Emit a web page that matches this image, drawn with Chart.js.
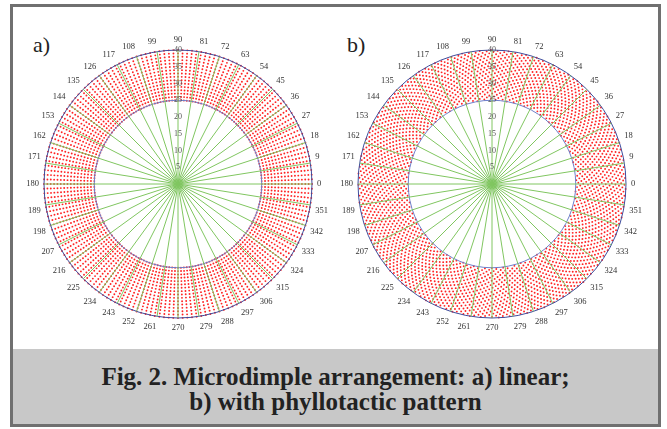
<!DOCTYPE html>
<html>
<head>
<meta charset="utf-8">
<script src="https://cdn.jsdelivr.net/npm/chart.js@4.4.1/dist/chart.umd.min.js"></script>
<style>
  html, body { margin: 0; padding: 0; background: #fff; }
  body { width: 667px; height: 429px; position: relative; overflow: hidden; }
  #frame { position: absolute; left: 10px; top: 4px; width: 651px; height: 423px;
           box-sizing: border-box; border: 3px solid #707070; }
  #band { position: absolute; left: 0; right: 0; top: 342px; bottom: 0; background: #c8c8c8; }
  #caption { position: absolute; left: 0; right: 0; top: 15px; text-align: center;
             font: bold 25px "Liberation Serif", serif; line-height: 25px; color: #222; }
  .tag { position: absolute; font: 22px "Liberation Serif", serif; line-height: 22px; color: #222; }
  canvas { position: absolute; }
</style>
</head>
<body>
<div id="frame">
  <div id="band"><div id="caption">Fig. 2. Microdimple arrangement: a) linear;<br>b) with phyllotactic pattern</div></div>
</div>
<div class="tag" style="left:33px;top:34px">a)</div>
<div class="tag" style="left:347px;top:34px">b)</div>
<canvas id="chartA" width="340" height="340"></canvas>
<canvas id="chartB" width="340" height="340"></canvas>
<script>
// angle labels (degrees, counter-clockwise from the right)
const angleLabels = [0, 9, 18, 27, 36, 45, 54, 63, 72, 81, 90, 99, 108, 117, 126, 135, 144, 153, 162, 171,
  180, 189, 198, 207, 216, 225, 234, 243, 252, 261, 270, 279, 288, 297, 306, 315, 324, 333, 342, 351];
const radialTicks = [0, 5, 10, 15, 20, 25, 30, 35, 40];
const boundaryRings = [25, 40];

// a) linear: dimples on rings every unit of radius, every 2 degrees
const ringRadii = [25, 26, 27, 28, 29, 30, 31, 32, 33, 34, 35, 36, 37, 38, 39, 40];
const linearStep = 2;

// b) phyllotactic: Vogel spiral, angle n*golden, radius c*sqrt(n)
const goldenAngle = 137.508;
const spiralC = 0.58;

const RES = 10;              // radar spokes per degree
const N = 360 * RES;

function idxOf(theta) {
  const a = (((90 - theta) % 360) + 360) % 360;
  return Math.round(a * RES) % N;
}

const labels = new Array(N).fill('');
angleLabels.forEach(a => { labels[idxOf(a)] = String(a); });

function linearDots() {
  const dots = [];
  ringRadii.forEach(r => {
    for (let t = 0; t < 360; t += linearStep) dots.push([t, r]);
  });
  return dots;
}

function spiralDots() {
  const dots = [[0, 0]];
  const lo = boundaryRings[0], hi = boundaryRings[1];
  for (let n = 1; ; n++) {
    const r = spiralC * Math.sqrt(n);
    if (r > hi) break;
    if (r >= lo) dots.push([(n * goldenAngle) % 360, r]);
  }
  return dots;
}

function toDatasets(dots) {
  const sets = [];
  dots.forEach(([t, r]) => {
    const i = idxOf(t);
    let s = sets.find(d => d[i] === null);
    if (!s) { s = new Array(N).fill(null); sets.push(s); }
    s[i] = r;
  });
  return sets.map(d => ({
    data: d,
    showLine: false,
    fill: false,
    pointRadius: 0.95,
    pointBorderWidth: 0,
    pointBackgroundColor: '#ff2424'
  }));
}

function makeChart(id, dots) {
  return new Chart(document.getElementById(id), {
    type: 'radar',
    data: { labels: labels, datasets: toDatasets(dots) },
    options: {
      responsive: false,
      animation: false,
      devicePixelRatio: 1,
      events: [],
      layout: { padding: 0 },
      plugins: { legend: { display: false }, tooltip: { enabled: false } },
      scales: {
        r: {
          min: radialTicks[0],
          max: radialTicks[radialTicks.length - 1],
          ticks: {
            stepSize: 5,
            showLabelBackdrop: false,
            backdropPadding: 0,
            color: '#555',
            font: { family: 'Liberation Serif', size: 8 },
            z: 2
          },
          grid: {
            circular: true,
            z: 1,
            color: ctx => ctx.tick && ctx.tick.value === boundaryRings[1] ? '#3e4c9c' : '#6d7fcb',
            lineWidth: ctx => ctx.tick && boundaryRings.includes(ctx.tick.value) ? 1 : 0
          },
          angleLines: {
            color: '#80c660',
            lineWidth: ctx => labels[ctx.index] !== '' ? 1 : 0
          },
          pointLabels: {
            color: '#333',
            padding: 1,
            font: { family: 'Liberation Serif', size: 8.5 }
          }
        }
      }
    }
  });
}

function place(chart, cx, cy, R) {
  let s = chart.scales.r;
  chart.options.layout.padding = Math.max(0, s.drawingArea - R);
  chart.update();
  s = chart.scales.r;
  chart.canvas.style.left = (cx - s.xCenter) + 'px';
  chart.canvas.style.top = (cy - s.yCenter) + 'px';
}

const chartA = makeChart('chartA', linearDots());
const chartB = makeChart('chartB', spiralDots());
place(chartA, 178, 184, 134);
place(chartB, 492, 184, 134);
</script>
</body>
</html>
